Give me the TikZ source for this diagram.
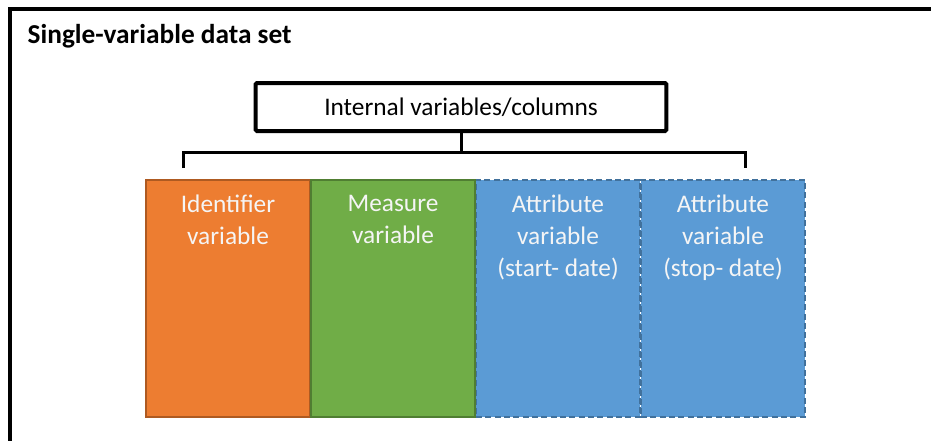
\documentclass[tikz,border=0pt]{standalone}
\usepackage{fontspec}
\setmainfont{Carlito}
\usetikzlibrary{positioning}
\definecolor{idorange}{HTML}{ED7D31}
\definecolor{idorangeline}{HTML}{AE5A21}
\definecolor{msgreen}{HTML}{70AD47}
\definecolor{msgreenline}{HTML}{507E32}
\definecolor{atblue}{HTML}{5B9BD5}
\definecolor{atblueline}{HTML}{41719C}
\tikzset{
  column/.style={rectangle, anchor=north west, inner sep=0pt, outer sep=0pt,
    minimum width=123pt, minimum height=177.75pt, line width=0.9pt},
  dashcol/.style={column, fill=atblue, draw=atblueline, dash pattern=on 4.5pt off 2.5pt},
  coltext/.style={anchor=north, align=center, text=white!96!black,
    font=\fontsize{19}{24}\selectfont},
  bracket/.style={line width=2.25pt}
}
\begin{document}
\begin{tikzpicture}[x=0.75pt, y=-0.75pt]
    \useasboundingbox (0,0) rectangle (931,440);
    % outer frame, only top and left edges show
    \draw[line width=2.4pt] (10,450) -- (10,9) -- (945,9);
    \node[anchor=base west, font=\bfseries\fontsize{20.5}{24}\selectfont] (title) at (23,43) {Single-variable data set};
    \node[draw, line width=3pt, rounded corners=1pt, minimum width=308pt, minimum height=36pt,
      font=\fontsize{19}{24}\selectfont] (internal) at (461,107) {Internal variables/columns};
    % columns
    \node[column, fill=idorange, draw=idorangeline] (ident) at (146,180) {};
    \node[dashcol] (start) at (476,180) {};
    \node[dashcol] (stop) at (641,180) {};
    \node[column, fill=msgreen, draw=msgreenline] (measure) at (311,180) {};
    \node[coltext, below=8pt of ident.north] (identtext) {Identifier\\variable};
    \node[coltext, below=8pt of measure.north] (measuretext) {Measure\\variable};
    \node[coltext, below=8pt of start.north] (starttext) {Attribute\\variable\\(start- date)};
    \node[coltext, below=8pt of stop.north] (stoptext) {Attribute\\variable\\(stop- date)};
    % bracket
    \coordinate (brl) at (183,168);
    \coordinate (brr) at (745,168);
    \coordinate (brm) at (461,152);
    \draw[bracket] (internal.south) -- (internal.south |- brm);
    \draw[bracket] (brl) -- (brl |- brm) -- (brr |- brm) -- (brr);
\end{tikzpicture}
\end{document}
